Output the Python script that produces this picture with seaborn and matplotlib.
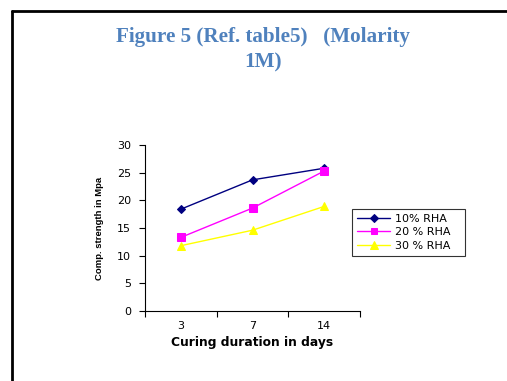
import matplotlib
matplotlib.use("Agg")
import matplotlib.pyplot as plt
import seaborn as sns
import pandas as pd
from matplotlib.ticker import FixedLocator

days = ["3", "7", "14"]
rha10 = [18.4, 23.7, 25.8]
rha20 = [13.3, 18.6, 25.3]
rha30 = [11.8, 14.6, 18.9]
series_names = ["10% RHA", "20 % RHA", "30 % RHA"]
colors = ["#000080", "#FF00FF", "#FFFF00"]
markers = ["D", "s", "^"]
marker_sizes = [4.5, 5.5, 6.0]

sns.set_theme(style="white")
plt.rcParams["font.family"] = ["DejaVu Sans"]
plt.rcParams["text.color"] = "black"
plt.rcParams["axes.labelcolor"] = "black"

df = pd.DataFrame({
    "day": days * 3,
    "value": rha10 + rha20 + rha30,
    "series": [s for s in series_names for _ in days],
})

fig = plt.figure(figsize=(5.07, 3.81), dpi=100)
fig.patch.set_facecolor("white")
ax = fig.add_axes([145/507, 1-311/381, 215/507, 166/381])

for name, col, mk, ms in zip(series_names, colors, markers, marker_sizes):
    sub = df[df["series"] == name]
    sns.lineplot(data=sub, x="day", y="value", ax=ax, color=col, marker=mk,
                 markersize=ms, markeredgecolor=col, linewidth=1.0,
                 label=name, sort=False)

ax.set_xlim(-0.5, 2.5)
ax.set_ylim(0, 30)
ax.set_yticks(range(0, 31, 5))
ax.set_xticks([0, 1, 2])
ax.set_xticklabels(days)
ax.xaxis.set_minor_locator(FixedLocator([-0.5, 0.5, 1.5, 2.5]))
ax.tick_params(axis="x", which="major", length=0, labelsize=8, pad=7, colors="black")
ax.tick_params(axis="x", which="minor", length=4, width=0.8, direction="out", bottom=True, color="black")
ax.tick_params(axis="y", which="major", length=4, width=0.8, direction="out", left=True,
               labelsize=8, pad=6, colors="black")
for s in ["top", "right"]:
    ax.spines[s].set_visible(False)
for s in ["left", "bottom"]:
    ax.spines[s].set_color("black")
    ax.spines[s].set_linewidth(0.8)
ax.set_xlabel("Curing duration in days", fontsize=8.8, fontweight="bold", labelpad=4,
              color="black")
ax.set_ylabel("Comp. strength in Mpa", fontsize=6.8, fontweight="bold", labelpad=9,
              color="black", family=["Liberation Sans", "DejaVu Sans"])

leg = ax.legend(loc="upper left", bbox_to_anchor=(352/507, 1-209/381, 113/507, 0),
                bbox_transform=fig.transFigure, mode="expand", fontsize=8,
                frameon=True, fancybox=False, borderaxespad=0, handlelength=3.0,
                handletextpad=0.4, borderpad=0.45, labelspacing=0.3, markerscale=0.85)
leg.get_frame().set_edgecolor("black")
leg.get_frame().set_linewidth(0.8)
for t in leg.get_texts():
    t.set_color("black")

title_kw = dict(ha="center", va="center", fontsize=15.2, fontweight="bold",
                color="#4F81BD", family=["Liberation Serif", "DejaVu Serif"])
fig.text(263/507, 1-37/381, "Figure 5 (Ref. table5)   (Molarity", **title_kw)
fig.text(263/507, 1-62/381, "1M)", **title_kw)

fig.add_artist(plt.Line2D([12/507, 1.0], [1-11/381, 1-11/381], color="black", lw=2,
                          transform=fig.transFigure))
fig.add_artist(plt.Line2D([12/507, 12/507], [0.0, 1-11/381], color="black", lw=2,
                          transform=fig.transFigure))

fig.savefig("out.png", dpi=100, facecolor="white")
